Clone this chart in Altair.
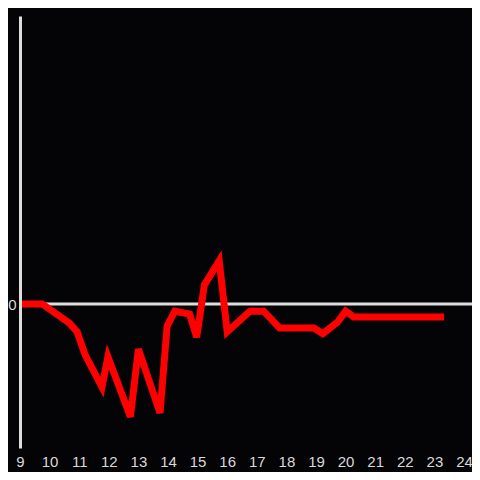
import altair as alt
import pandas as pd

hours = [9.0, 9.75, 10.67, 10.93, 11.2, 11.77, 11.97, 12.73, 13.0, 13.73, 13.97,
         14.23, 14.73, 14.97, 15.23, 15.73, 16.0, 16.77, 17.23, 17.77, 18.93,
         19.23, 19.73, 20.0, 20.27, 23.33]
values = [0.0, 0.0, -0.40, -0.58, -1.06, -1.73, -1.10, -2.35, -0.94, -2.27, -0.46,
          -0.15, -0.21, -0.69, 0.40, 0.90, -0.58, -0.15, -0.15, -0.50, -0.50,
          -0.62, -0.375, -0.15, -0.27, -0.27]
x_ticks = list(range(9, 25))

df = pd.DataFrame({"hour": hours, "value": values})

xs = alt.Scale(domain=[9, 24.27], nice=False, zero=False)
ys = alt.Scale(domain=[-3, 6], nice=False, zero=False)

zero = alt.Chart(pd.DataFrame({"y": [0]})).mark_rule(color="#dddddd", strokeWidth=3).encode(
    y=alt.Y("y:Q", scale=ys)
)

line = alt.Chart(df).mark_line(color="#ff0000", strokeWidth=7, strokeJoin="miter").encode(
    x=alt.X("hour:Q", scale=xs, title=None,
            axis=alt.Axis(values=x_ticks, domain=False, ticks=False, grid=False,
                          labelColor="#d9d9d9", labelFontSize=15, labelPadding=6,
                          labelFont="Liberation Sans", labelFlush=False)),
    y=alt.Y("value:Q", scale=ys, title=None,
            axis=alt.Axis(values=[0], domain=True, domainColor="#dddddd", domainWidth=3,
                          ticks=False, grid=False, labelColor="#d9d9d9", labelFontSize=15,
                          labelPadding=4, labelFont="Liberation Sans", zindex=1)),
)

chart = (zero + line).properties(
    width=452, height=432,
    background="#040306",
    padding={"left": 12, "top": 8, "right": 0, "bottom": 24},
    autosize=alt.AutoSizeParams(type="none"),
).configure_view(stroke=None)

chart.save("out.html", embed_options={"renderer": "svg", "actions": False})
